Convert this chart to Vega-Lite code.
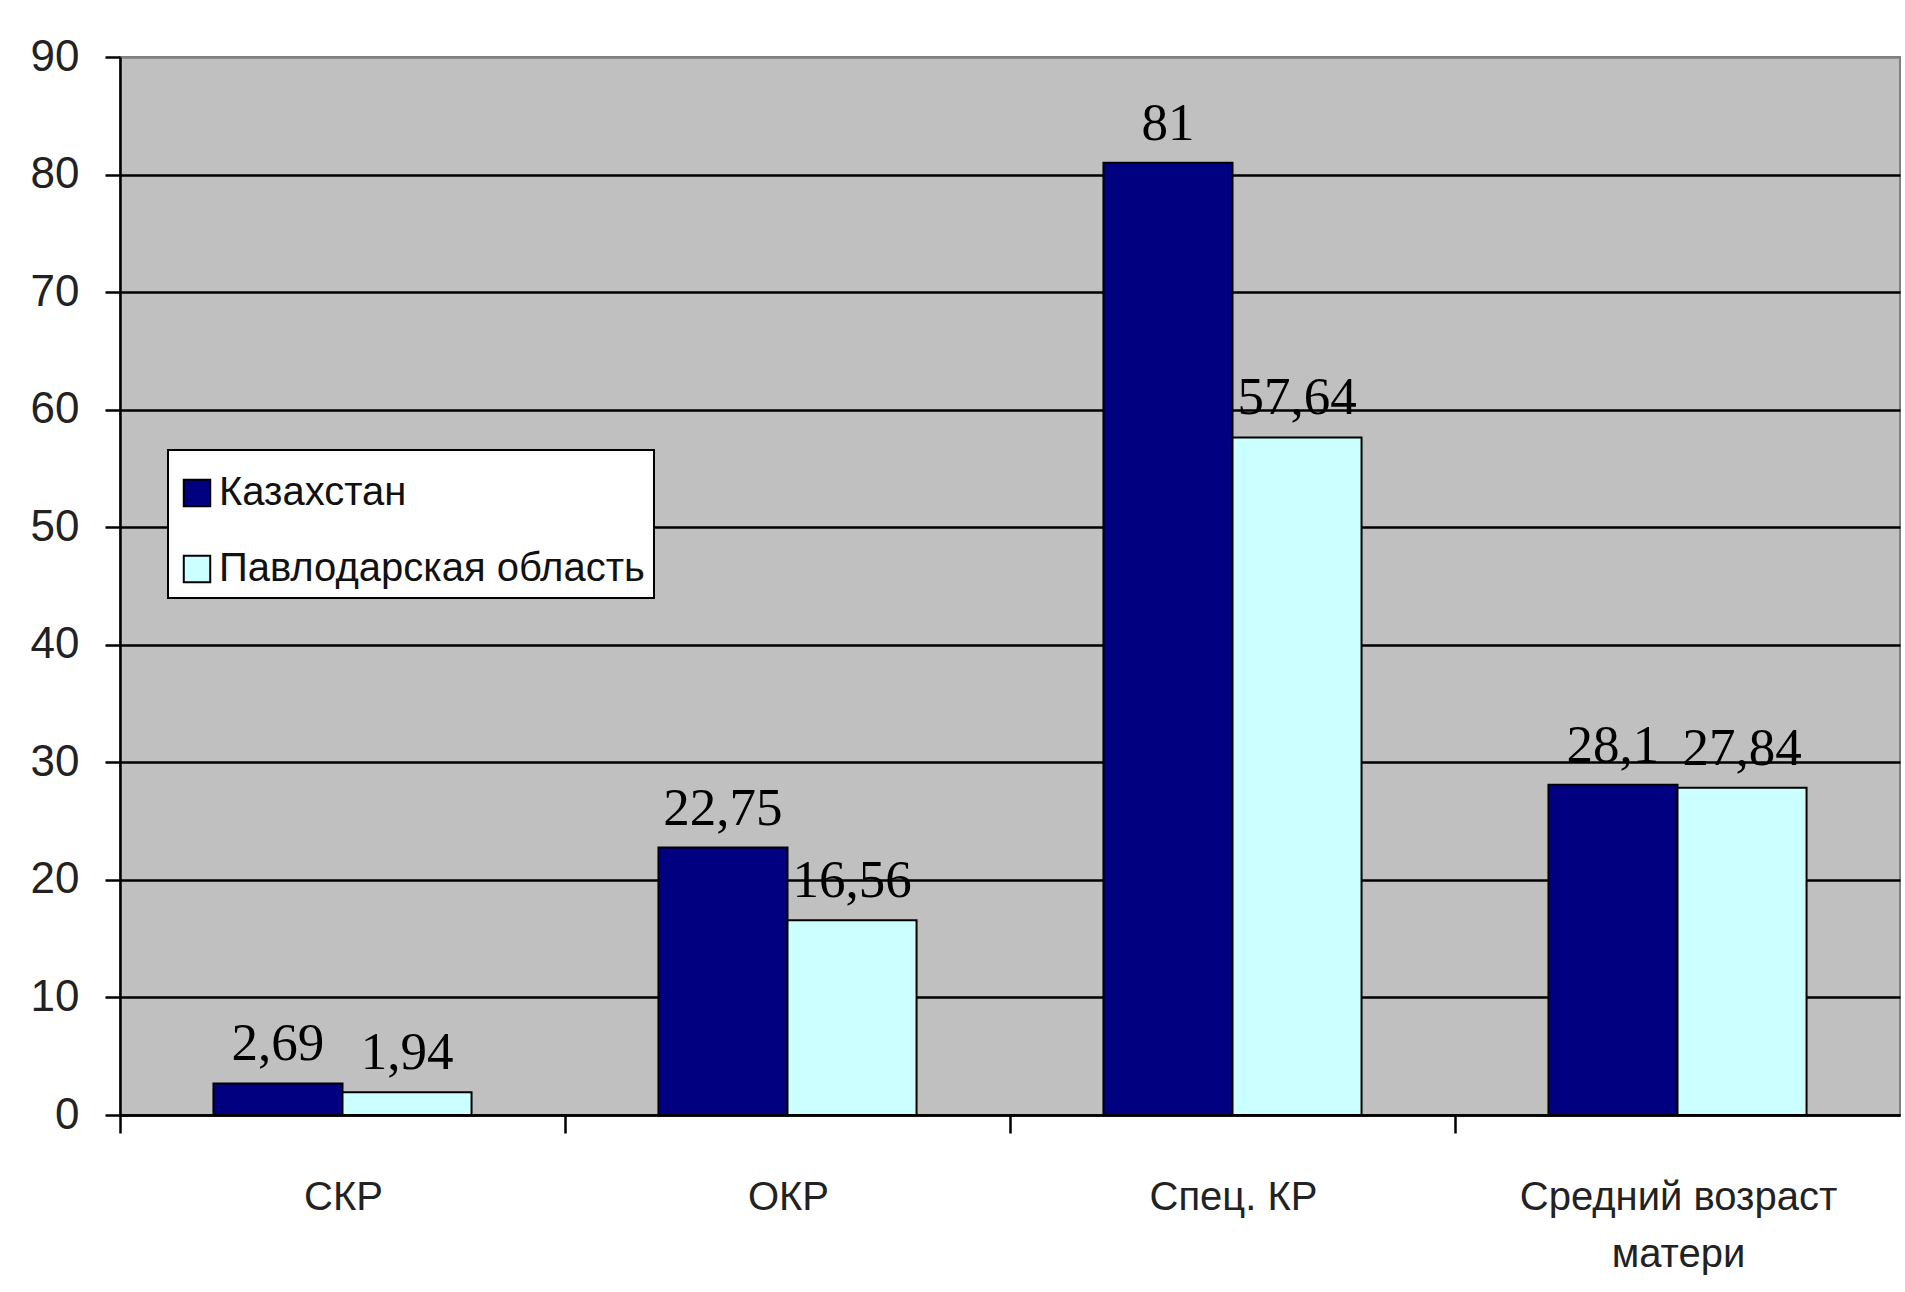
{
  "$schema": "https://vega.github.io/schema/vega-lite/v6.json",
  "width": 1780,
  "height": 1058,
  "autosize": {"type": "none"},
  "padding": {"left": 120, "top": 57, "right": 5, "bottom": 177},
  "background": "white",
  "config": {
    "view": {"fill": "#c0c0c0", "stroke": "#808080", "strokeWidth": 2},
    "font": "Liberation Sans",
    "legend": {"strokeWidth": 2}
  },
  "data": {
    "values": [
      {"indicator": "СКР", "region": "Казахстан", "value": 2.69},
      {"indicator": "СКР", "region": "Павлодарская область", "value": 1.94},
      {"indicator": "ОКР", "region": "Казахстан", "value": 22.75},
      {"indicator": "ОКР", "region": "Павлодарская область", "value": 16.56},
      {"indicator": "Спец. КР", "region": "Казахстан", "value": 81},
      {"indicator": "Спец. КР", "region": "Павлодарская область", "value": 57.64},
      {"indicator": "Средний возраст матери", "region": "Казахстан", "value": 28.1},
      {"indicator": "Средний возраст матери", "region": "Павлодарская область", "value": 27.84}
    ]
  },
  "encoding": {
    "x": {
      "field": "indicator",
      "type": "nominal",
      "sort": ["СКР", "ОКР", "Спец. КР", "Средний возраст матери"],
      "scale": {"paddingInner": 0.42, "paddingOuter": 0.21},
      "axis": {
        "title": null,
        "labelAngle": 0,
        "labelFont": "Liberation Sans",
        "labelFontSize": 40,
        "labelColor": "#222222",
        "labelPadding": 44,
        "labelLineHeight": 57,
        "labelLimit": 0,
        "labelBaseline": "top",
        "labelExpr": "datum.label == 'Средний возраст матери' ? ['Средний возраст', 'матери'] : datum.label",
        "bandPosition": 0,
        "tickOffset": -93.5,
        "labelOffset": 94,
        "tickColor": "black",
        "tickWidth": 2.5,
        "tickSize": 18,
        "domainColor": "black",
        "domainWidth": 2.5,
        "grid": false
      }
    },
    "xOffset": {
      "field": "region",
      "type": "nominal",
      "sort": ["Казахстан", "Павлодарская область"],
      "scale": {"paddingInner": 0, "paddingOuter": 0}
    },
    "y": {
      "field": "value",
      "type": "quantitative",
      "scale": {"domain": [0, 90], "nice": false},
      "axis": {
        "title": null,
        "values": [0, 10, 20, 30, 40, 50, 60, 70, 80, 90],
        "labelFont": "Liberation Sans",
        "labelFontSize": 44,
        "labelColor": "#222222",
        "labelPadding": 26,
        "tickColor": "black",
        "tickWidth": 2.5,
        "tickSize": 15,
        "domainColor": "black",
        "domainWidth": 2.5,
        "grid": true,
        "gridColor": {"condition": {"test": "datum.value == 90", "value": "#808080"}, "value": "black"},
        "gridWidth": 2.5,
        "gridOpacity": 1
      }
    }
  },
  "layer": [
    {
      "mark": {"type": "bar", "stroke": "black", "strokeWidth": 2},
      "encoding": {
        "color": {
          "field": "region",
          "type": "nominal",
          "scale": {"domain": ["Казахстан", "Павлодарская область"], "range": ["#000080", "#ccffff"]},
          "legend": {
            "title": " ",
            "titleFontSize": 1,
            "titlePadding": 13,
            "orient": "none",
            "legendX": 48,
            "legendY": 393,
            "direction": "vertical",
            "fillColor": "white",
            "strokeColor": "black",
            "padding": 9,
            "rowPadding": 36,
            "symbolType": "square",
            "symbolSize": 700,
            "symbolStrokeColor": "black",
            "symbolStrokeWidth": 2,
            "symbolOpacity": 1,
            "labelFont": "Liberation Sans",
            "labelFontSize": 40,
            "labelColor": "#111111",
            "labelOffset": 2,
            "labelLimit": 0
          }
        }
      }
    },
    {
      "mark": {
        "type": "text",
        "font": "Liberation Serif",
        "fontSize": 53,
        "baseline": "alphabetic",
        "dy": -23,
        "color": "black",
        "text": {"expr": "replace(format(datum.value, '~g'), '.', ',')"}
      }
    }
  ]
}
